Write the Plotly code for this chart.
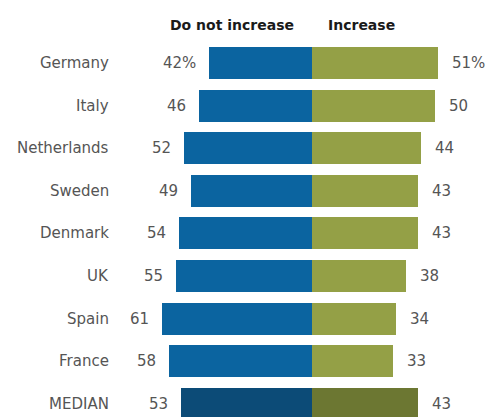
import plotly.graph_objects as go

countries = ["Germany", "Italy", "Netherlands", "Sweden", "Denmark", "UK", "Spain", "France", "MEDIAN"]
do_not_increase = [42, 46, 52, 49, 54, 55, 61, 58, 53]
increase = [51, 50, 44, 43, 43, 38, 34, 33, 43]

blue, green = "#0b64a0", "#94a046"
blue_median, green_median = "#0c4b77", "#6c7732"

rows = list(range(len(countries)))
is_median = [c == "MEDIAN" for c in countries]
left_colors = [blue_median if m else blue for m in is_median]
right_colors = [green_median if m else green for m in is_median]

fig = go.Figure()
fig.add_trace(go.Bar(
    y=rows, x=[-v for v in do_not_increase], orientation="h",
    marker=dict(color=left_colors, line=dict(width=0)), width=0.75,
    hoverinfo="skip", showlegend=False,
))
fig.add_trace(go.Bar(
    y=rows, x=increase, orientation="h",
    marker=dict(color=right_colors, line=dict(width=0)), width=0.75,
    hoverinfo="skip", showlegend=False,
))

label_font = dict(family="DejaVu Sans", size=15, color="#555555")
annotations = []
for i, (name, a, b) in enumerate(zip(countries, do_not_increase, increase)):
    suffix = "%" if i == 0 else ""
    annotations.append(dict(
        x=0.226, xref="paper", y=i, yref="y", text=name, showarrow=False,
        xanchor="right", yanchor="middle", font=label_font,
    ))
    annotations.append(dict(
        x=-a, xref="x", y=i, yref="y", text=f"{a}{suffix}", showarrow=False,
        xanchor="right", yanchor="middle", xshift=-11, font=label_font,
    ))
    annotations.append(dict(
        x=b, xref="x", y=i, yref="y", text=f"{b}{suffix}", showarrow=False,
        xanchor="left", yanchor="middle", xshift=12, font=label_font,
    ))

header_font = dict(family="DejaVu Sans", size=14, color="#1a1a1a")
annotations.append(dict(
    x=-32.5, xref="x", y=-0.89, yref="y", text="<b>Do not increase</b>",
    showarrow=False, xanchor="center", yanchor="middle", font=header_font,
))
annotations.append(dict(
    x=20.0, xref="x", y=-0.89, yref="y", text="<b>Increase</b>",
    showarrow=False, xanchor="center", yanchor="middle", font=header_font,
))

fig.update_layout(
    width=491, height=417,
    margin=dict(l=0, r=0, t=0, b=0),
    paper_bgcolor="white", plot_bgcolor="white",
    barmode="relative", bargap=0,
    xaxis=dict(range=[-126.6, 72.6], visible=False, fixedrange=True),
    yaxis=dict(range=[8.31, -1.479], visible=False, fixedrange=True),
    annotations=annotations,
)

fig.write_html("out.html", config={"displayModeBar": False})
